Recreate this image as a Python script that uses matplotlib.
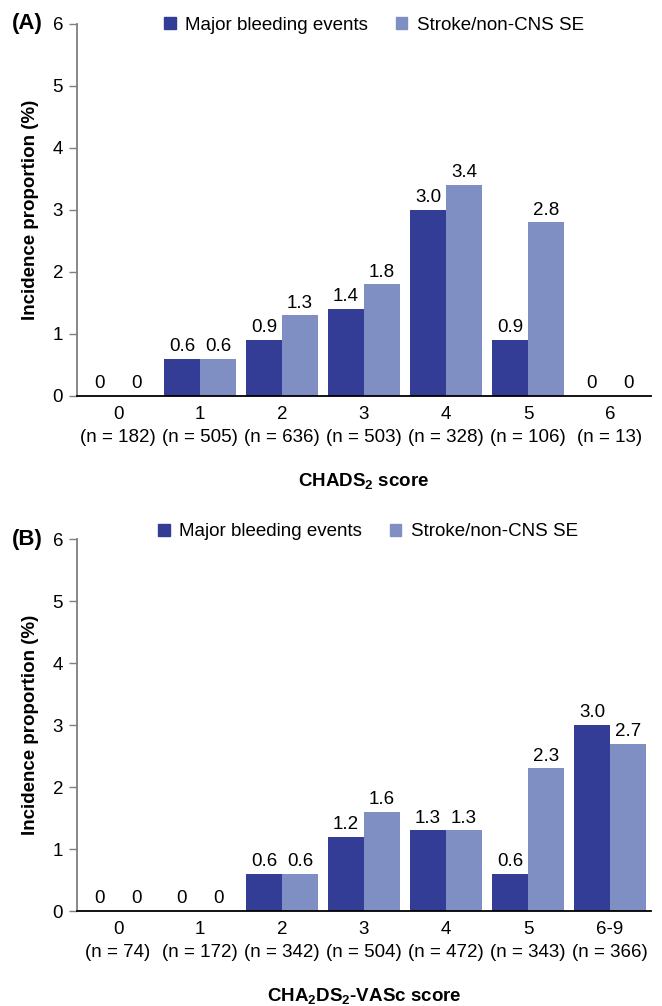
import numpy as np
import matplotlib
matplotlib.use("Agg")
import matplotlib.pyplot as plt
from matplotlib.patches import Patch

plt.rcParams['font.family'] = ['Liberation Sans', 'DejaVu Sans']
plt.rcParams['mathtext.fontset'] = 'custom'
plt.rcParams['mathtext.rm'] = 'Liberation Sans:bold'
plt.rcParams['mathtext.bf'] = 'Liberation Sans:bold'

DARK = '#333d95'
LIGHT = '#7f8fc4'

# panel A: CHADS2
chads_scores = ['0', '1', '2', '3', '4', '5', '6']
chads_n = [182, 505, 636, 503, 328, 106, 13]
chads_bleed = [0, 0.6, 0.9, 1.4, 3.0, 0.9, 0]
chads_stroke = [0, 0.6, 1.3, 1.8, 3.4, 2.8, 0]

# panel B: CHA2DS2-VASc
vasc_scores = ['0', '1', '2', '3', '4', '5', '6-9']
vasc_n = [74, 172, 342, 504, 472, 343, 366]
vasc_bleed = [0, 0, 0.6, 1.2, 1.3, 0.6, 3.0]
vasc_stroke = [0, 0, 0.6, 1.6, 1.3, 2.3, 2.7]

W, H = 662, 1006
fig = plt.figure(figsize=(W / 100, H / 100), dpi=100)

FS = 13.5


def fmt(v):
    return '0' if v == 0 else '%.1f' % v


def panel(rect, scores, ns, bleed, stroke, xlabel, tag, leg_xy):
    ax = fig.add_axes(rect)
    x = np.arange(len(scores))
    w = 0.44
    b1 = ax.bar(x - w / 2, bleed, w, color=DARK, linewidth=0)
    b2 = ax.bar(x + w / 2, stroke, w, color=LIGHT, linewidth=0)
    for bars, vals in ((b1, bleed), (b2, stroke)):
        for r, v in zip(bars, vals):
            ax.text(r.get_x() + r.get_width() / 2, v + 0.06, fmt(v),
                    ha='center', va='bottom', fontsize=FS)
    ax.set_xlim(-0.5, len(scores) - 0.5)
    ax.set_ylim(0, 6)
    ax.set_yticks(range(7))
    ax.set_xticks(x)
    ax.set_xticklabels(['%s\n(n = %d)' % (s, n) for s, n in zip(scores, ns)],
                       fontsize=FS, linespacing=1.5)
    ax.tick_params(axis='x', length=0, pad=7)
    ax.tick_params(axis='y', length=6, width=1, color='#7f7f7f', pad=4,
                   labelsize=FS)
    for s in ('top', 'right'):
        ax.spines[s].set_visible(False)
    ax.spines['left'].set_color('#7f7f7f')
    ax.spines['left'].set_linewidth(1.3)
    ax.spines['bottom'].set_color('black')
    ax.spines['bottom'].set_linewidth(1.3)
    ax.set_ylabel('Incidence proportion (%)', fontsize=FS, fontweight='bold',
                  labelpad=10)
    ax.set_xlabel(xlabel, fontsize=FS, fontweight='bold', labelpad=18)
    fig.text(12 / W, 1 - leg_xy[2] / H, tag, fontsize=16, fontweight='bold',
             ha='left', va='center')
    handles = [Patch(color=DARK), Patch(color=LIGHT)]
    fig.legend(handles, ['Major bleeding events', 'Stroke/non-CNS SE'],
               loc='center', bbox_to_anchor=(leg_xy[0] / W, 1 - leg_xy[1] / H),
               ncol=2, frameon=False, fontsize=FS, handlelength=0.6,
               handleheight=0.6, handletextpad=0.5, columnspacing=1.5)
    return ax


axw = 574 / W
axh = 372 / H
panel([77 / W, 1 - 396 / H, axw, axh], chads_scores, chads_n, chads_bleed,
      chads_stroke, r'CHADS$_{2}$ score', '(A)', (374, 25, 23))
panel([77 / W, 1 - 911 / H, axw, axh], vasc_scores, vasc_n, vasc_bleed,
      vasc_stroke, r'CHA$_{2}$DS$_{2}$-VASc score', '(B)', (368, 532, 539))

fig.savefig('out.png', dpi=100)
